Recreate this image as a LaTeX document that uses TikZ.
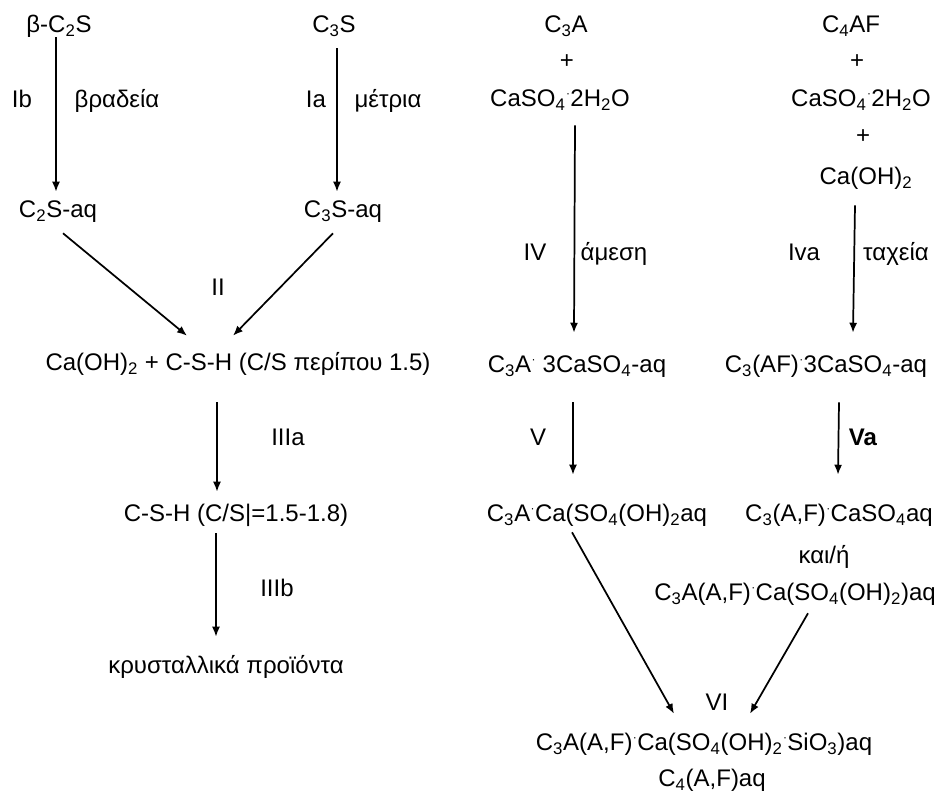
\documentclass[tikz,border=0pt]{standalone}
\usepackage{fontspec}
\setmainfont{Liberation Sans}
\usetikzlibrary{arrows.meta}
\newcommand{\sbs}[1]{\textsubscript{#1}}
\newcommand{\cdt}{\kern0.3pt\raisebox{0.7ex}{\small·}\kern0.3pt}
\begin{document}
\begin{tikzpicture}[x=0.75pt,y=-0.75pt,
  every node/.style={inner sep=1pt,font=\fontsize{18}{21}\selectfont,text height=14pt,text depth=1.1pt},
  arr/.style={-{Latex[length=7.5pt,width=6pt]},line width=1.3pt}]
\useasboundingbox (0,0) rectangle (943,794);
% left column
\node (b2s) at (59,24) {β-C\sbs{2}S};
\node (c3s) at (334,24) {C\sbs{3}S};
\node (lIb) at (22,99) {Ib};
\node (lbr) at (117,99) {βραδεία};
\node (lIa) at (316,99) {Ia};
\node (lme) at (388,99) {μέτρια};
\node (c2saq) at (58,209) {C\sbs{2}S-aq};
\node (c3saq) at (343,209) {C\sbs{3}S-aq};
\node (lII) at (218,287) {II};
\node (csh1) at (238,362) {Ca(OH)\sbs{2} + C-S-H (C/S περίπου 1.5)};
\node (lIIIa) at (288,437) {IIIa};
\node (csh2) at (236,513) {C-S-H (C/S|=1.5-1.8)};
\node (lIIIb) at (277,588) {IIIb};
\node (kryst) at (226,665) {κρυσταλλικά προϊόντα};
% right columns
\node (c3a) at (566,24) {C\sbs{3}A};
\node (c4af) at (851,24) {C\sbs{4}AF};
\node (plus1) at (567,60) {+};
\node (plus2) at (857,60) {+};
\node (caso4a) at (560,98) {CaSO\sbs{4}\cdt 2H\sbs{2}O};
\node (caso4b) at (861,98) {CaSO\sbs{4}\cdt 2H\sbs{2}O};
\node (plus3) at (863,135) {+};
\node (caoh) at (866,176) {Ca(OH)\sbs{2}};
\node (lIV) at (535,252) {IV};
\node (lam) at (614,252) {άμεση};
\node (lIva) at (804,252) {Iva};
\node (ltax) at (896,252) {ταχεία};
\node (c3a3) at (577,364) {C\sbs{3}A\cdt\ 3CaSO\sbs{4}-aq};
\node (c3af3) at (826,364) {C\sbs{3}(AF)\cdt 3CaSO\sbs{4}-aq};
\node (lV) at (538,437) {V};
\node (lVa) at (863,437) {\textbf{Va}};
\node (c3aca) at (597,513) {C\sbs{3}A\cdt Ca(SO\sbs{4}(OH)\sbs{2}aq};
\node (c3afca) at (839,513) {C\sbs{3}(A,F)\cdt CaSO\sbs{4}aq};
\node (kai) at (824,555) {και/ή};
\node (c3aaf) at (795,592) {C\sbs{3}A(A,F)\cdt Ca(SO\sbs{4}(OH)\sbs{2})aq};
\node (lVI) at (717,702) {VI};
\node (final1) at (704,742) {C\sbs{3}A(A,F)\cdt Ca(SO\sbs{4}(OH)\sbs{2}\cdt SiO\sbs{3})aq};
\node (final2) at (712,778) {C\sbs{4}(A,F)aq};
% arrows
\draw[arr] ([xshift=-2.25pt,yshift=-1.2pt]b2s.south) -- ([xshift=-1.5pt,yshift=4.2pt]c2saq.north);
\draw[arr] ([xshift=2.25pt,yshift=-9.45pt]c3s.south) -- ([xshift=-4.5pt,yshift=4.2pt]c3saq.north);
\draw[arr] ([xshift=3.75pt,yshift=-9.45pt]c2saq.south) -- ([xshift=-38.25pt,yshift=10.95pt]csh1.north);
\draw[arr] ([xshift=-7.5pt,yshift=-9.45pt]c3saq.south) -- ([xshift=-3.75pt,yshift=10.95pt]csh1.north);
\draw[arr] ([xshift=-15.75pt,yshift=-21.45pt]csh1.south) -- ([xshift=-14.25pt,yshift=7.2pt]csh2.north);
\draw[arr] ([xshift=-15pt,yshift=-6.45pt]csh2.south) -- ([xshift=-7.5pt,yshift=12.45pt]kryst.north);
\draw[arr] ([xshift=11.25pt,yshift=-11.7pt]caso4a.south) -- ([xshift=-2.25pt,yshift=14.7pt]c3a3.north);
\draw[arr] ([xshift=-8.25pt,yshift=-13.2pt]caoh.south) -- ([xshift=20.25pt,yshift=14.7pt]c3af3.north);
\draw[arr] ([xshift=-3pt,yshift=-19.95pt]c3a3.south) -- ([xshift=-18pt,yshift=19.95pt]c3aca.north);
\draw[arr] ([xshift=9.75pt,yshift=-19.95pt]c3af3.south) -- ([xshift=-0.75pt,yshift=19.95pt]c3afca.north);
\draw[arr] ([xshift=-18.75pt,yshift=-5.7pt]c3aca.south) -- ([xshift=-22.5pt,yshift=12.45pt]final1.north);
\draw[arr] ([xshift=9.75pt,yshift=-7.2pt]c3aaf.south) -- ([xshift=34.5pt,yshift=12.45pt]final1.north);
\end{tikzpicture}
\end{document}
